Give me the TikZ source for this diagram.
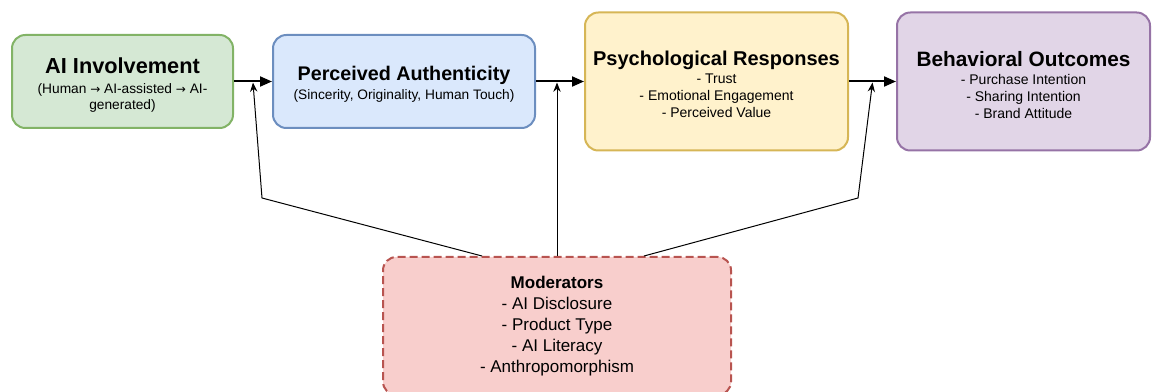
\documentclass[tikz,border=0pt]{standalone}
\usepackage{fontspec}
\setmainfont{Liberation Sans}
\newfontfamily\arrowfont{DejaVu Sans}
\usetikzlibrary{arrows.meta,positioning}

\definecolor{invfill}{HTML}{D5E8D4}\definecolor{invline}{HTML}{82B366}
\definecolor{authfill}{HTML}{DAE8FC}\definecolor{authline}{HTML}{6C8EBF}
\definecolor{psyfill}{HTML}{FFF2CC}\definecolor{psyline}{HTML}{D6B656}
\definecolor{behfill}{HTML}{E1D5E7}\definecolor{behline}{HTML}{9673A6}
\definecolor{modfill}{HTML}{F8CECC}\definecolor{modline}{HTML}{B85450}

% bold box heading, with a little extra room above it
\newcommand\boxtitle[2][15]{{\fontsize{#1}{18}\selectfont\bfseries\rule{0pt}{1.03em}#2}}
\newcommand\rarr{{\arrowfont\fontsize{9}{12}\selectfont →}}

\begin{document}
\begin{tikzpicture}[
  x=0.75pt, y=-0.75pt,
  box/.style={draw, rounded corners=10pt, line width=1.5pt, align=center,
              inner sep=2pt},
  smallbox/.style={box, minimum height=69.75pt, font=\fontsize{10.3}{12}\selectfont},
  bigbox/.style={box, minimum height=103.5pt, font=\fontsize{10.5}{12.6}\selectfont},
  flow/.style={-{Triangle[length=9pt,width=7.5pt]}, line width=1.5pt},
  mod/.style={-{Stealth[length=7pt,width=5.5pt]}, line width=.75pt},
  node distance=28.5pt,
]
\useasboundingbox (0,0) rectangle (1154,392);

% main chain
\node[smallbox, fill=invfill, draw=invline, minimum width=165.75pt] (inv) at (122.5,81.5)
  {\boxtitle[16.3]{AI Involvement}\\[3pt](Human \rarr{} AI-assisted \rarr{} AI-\\generated)};
\node[smallbox, fill=authfill, draw=authline, minimum width=196.5pt, right=of inv] (auth)
  {\boxtitle[14.8]{Perceived Authenticity}\\[2.5pt](Sincerity, Originality, Human Touch)};
\node[bigbox, fill=psyfill, draw=psyline, minimum width=197.25pt, right=36pt of auth] (psy)
  {\boxtitle{Psychological Responses}\\[1pt]- Trust\\- Emotional Engagement\\- Perceived Value};
\node[bigbox, fill=behfill, draw=behline, minimum width=189.75pt, right=35.25pt of psy] (beh)
  {\boxtitle[15.6]{Behavioral Outcomes}\\[1pt]- Purchase Intention\\- Sharing Intention\\- Brand Attitude};

% moderators
\node[box, fill=modfill, draw=modline, dash pattern=on 6pt off 3pt,
      minimum width=261pt, minimum height=103.5pt,
      font=\fontsize{12.75}{15.75}\selectfont] (mods) at (557,326)
  {\textbf{Moderators}\\- AI Disclosure\\- Product Type\\- AI Literacy\\- Anthropomorphism};

\draw[flow] (inv) -- coordinate (m12) (auth);
\draw[flow] (auth) -- coordinate (m23) (psy);
\draw[flow] (psy) -- coordinate (m34) (beh);

\draw[mod] ([xshift=-56.25pt]mods.north) -- (262,198) -- ([yshift=-.75pt]m12);
\draw[mod] (mods.north) -- ([yshift=-.75pt]mods.north |- m23);
\draw[mod] ([xshift=65.25pt]mods.north) -- (858,198) -- ([yshift=-.75pt]m34);
\end{tikzpicture}
\end{document}
